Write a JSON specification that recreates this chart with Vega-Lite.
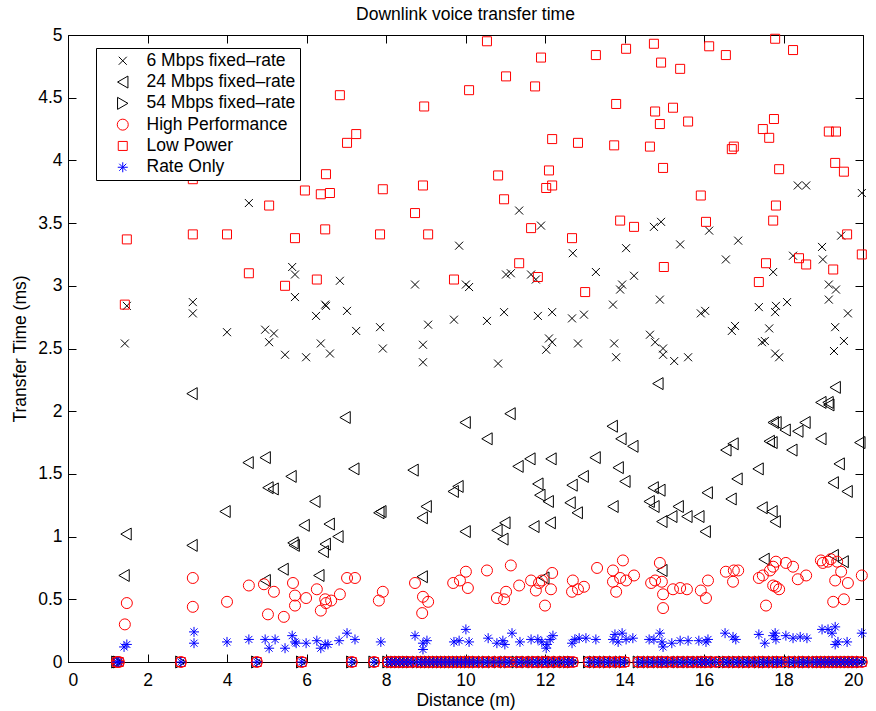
{
"$schema":"https://vega.github.io/schema/vega-lite/v6.json",
"width":795,"height":627,
"autosize":{"type":"none"},
"padding":{"left":68,"top":35,"right":13,"bottom":49},
"background":"white",
"title":{"text":"Downlink voice transfer time","font":"Liberation Sans","fontSize":17.5,"fontWeight":"normal","color":"black","anchor":"middle","offset":3},
"config":{"view":{"stroke":null},
"axis":{"domainColor":"black","tickColor":"black","labelColor":"black","titleColor":"black","labelFont":"Liberation Sans","titleFont":"Liberation Sans","labelFontSize":17.5,"titleFontSize":17.5,"titleFontWeight":"normal","tickSize":-8,"grid":false,"domainWidth":1,"tickWidth":1},
"legend":{"title":null,"orient":"none","legendX":28,"legendY":13,"strokeColor":"black","fillColor":"white","padding":4,"labelFont":"Liberation Sans","labelFontSize":17.5,"labelColor":"black","symbolStrokeWidth":1,"rowPadding":2.3,"labelOffset":15,"symbolOffset":14}},
"layer":[
{"data":{"values":[
{"s":"6M","x":1.43,"y":2.54},{"s":"6M","x":1.48,"y":2.84},{"s":"6M","x":3.14,"y":2.87},{"s":"6M","x":3.14,"y":2.78},{"s":"6M","x":4.0,"y":2.63},{"s":"6M","x":4.55,"y":3.66},{"s":"6M","x":4.96,"y":2.65},{"s":"6M","x":5.06,"y":2.55},{"s":"6M","x":5.18,"y":2.62},{"s":"6M","x":5.46,"y":2.45},{"s":"6M","x":5.64,"y":3.15},{"s":"6M","x":5.71,"y":3.09},{"s":"6M","x":5.71,"y":2.91},{"s":"6M","x":5.99,"y":2.43},{"s":"6M","x":6.24,"y":2.76},{"s":"6M","x":6.36,"y":2.54},{"s":"6M","x":6.47,"y":2.85},{"s":"6M","x":6.49,"y":2.84},{"s":"6M","x":6.59,"y":2.46},{"s":"6M","x":6.84,"y":3.04},{"s":"6M","x":7.02,"y":2.8},{"s":"6M","x":7.25,"y":2.64},{"s":"6M","x":7.85,"y":2.67},{"s":"6M","x":7.92,"y":2.5},{"s":"6M","x":8.73,"y":3.01},{"s":"6M","x":8.93,"y":2.53},{"s":"6M","x":8.93,"y":2.39},{"s":"6M","x":9.06,"y":2.69},{"s":"6M","x":9.71,"y":2.73},{"s":"6M","x":9.84,"y":3.32},{"s":"6M","x":10.01,"y":3.01},{"s":"6M","x":10.09,"y":2.99},{"s":"6M","x":10.54,"y":2.72},{"s":"6M","x":10.82,"y":2.38},{"s":"6M","x":10.97,"y":2.79},{"s":"6M","x":11.02,"y":3.09},{"s":"6M","x":11.14,"y":3.1},{"s":"6M","x":11.35,"y":3.6},{"s":"6M","x":11.65,"y":3.09},{"s":"6M","x":11.77,"y":3.05},{"s":"6M","x":11.82,"y":2.76},{"s":"6M","x":11.9,"y":3.48},{"s":"6M","x":12.03,"y":2.49},{"s":"6M","x":12.1,"y":2.58},{"s":"6M","x":12.18,"y":2.79},{"s":"6M","x":12.18,"y":2.55},{"s":"6M","x":12.68,"y":2.74},{"s":"6M","x":12.7,"y":3.26},{"s":"6M","x":12.83,"y":2.54},{"s":"6M","x":12.98,"y":2.77},{"s":"6M","x":13.28,"y":3.11},{"s":"6M","x":13.71,"y":2.85},{"s":"6M","x":13.74,"y":2.54},{"s":"6M","x":13.79,"y":2.43},{"s":"6M","x":13.89,"y":2.97},{"s":"6M","x":13.94,"y":3.01},{"s":"6M","x":14.04,"y":3.3},{"s":"6M","x":14.24,"y":3.08},{"s":"6M","x":14.64,"y":2.61},{"s":"6M","x":14.74,"y":3.47},{"s":"6M","x":14.77,"y":2.55},{"s":"6M","x":14.89,"y":2.89},{"s":"6M","x":14.92,"y":3.51},{"s":"6M","x":14.97,"y":2.5},{"s":"6M","x":14.97,"y":2.45},{"s":"6M","x":15.25,"y":2.4},{"s":"6M","x":15.4,"y":3.33},{"s":"6M","x":15.6,"y":2.43},{"s":"6M","x":15.92,"y":2.78},{"s":"6M","x":16.03,"y":2.8},{"s":"6M","x":16.13,"y":3.44},{"s":"6M","x":16.55,"y":3.21},{"s":"6M","x":16.7,"y":2.64},{"s":"6M","x":16.78,"y":2.68},{"s":"6M","x":16.86,"y":3.36},{"s":"6M","x":17.38,"y":2.83},{"s":"6M","x":17.46,"y":2.55},{"s":"6M","x":17.53,"y":2.56},{"s":"6M","x":17.64,"y":2.66},{"s":"6M","x":17.74,"y":3.11},{"s":"6M","x":17.79,"y":2.46},{"s":"6M","x":17.81,"y":2.84},{"s":"6M","x":17.79,"y":2.79},{"s":"6M","x":17.89,"y":2.43},{"s":"6M","x":18.09,"y":2.87},{"s":"6M","x":18.24,"y":3.24},{"s":"6M","x":18.36,"y":3.8},{"s":"6M","x":18.57,"y":3.8},{"s":"6M","x":18.97,"y":3.31},{"s":"6M","x":18.99,"y":3.21},{"s":"6M","x":19.14,"y":3.01},{"s":"6M","x":19.14,"y":2.89},{"s":"6M","x":19.27,"y":2.48},{"s":"6M","x":19.3,"y":2.67},{"s":"6M","x":19.32,"y":2.97},{"s":"6M","x":19.45,"y":3.4},{"s":"6M","x":19.52,"y":2.56},{"s":"6M","x":19.62,"y":2.78},{"s":"6M","x":19.97,"y":3.74},
{"s":"24M","x":1.41,"y":0.69},{"s":"24M","x":1.46,"y":1.02},{"s":"24M","x":3.12,"y":2.14},{"s":"24M","x":3.12,"y":0.93},{"s":"24M","x":3.95,"y":1.2},{"s":"24M","x":4.53,"y":1.59},{"s":"24M","x":4.96,"y":1.63},{"s":"24M","x":4.96,"y":0.65},{"s":"24M","x":5.03,"y":1.39},{"s":"24M","x":5.16,"y":1.38},{"s":"24M","x":5.41,"y":0.74},{"s":"24M","x":5.61,"y":1.48},{"s":"24M","x":5.66,"y":0.95},{"s":"24M","x":5.69,"y":0.93},{"s":"24M","x":5.94,"y":1.09},{"s":"24M","x":6.21,"y":1.28},{"s":"24M","x":6.31,"y":0.69},{"s":"24M","x":6.42,"y":0.88},{"s":"24M","x":6.47,"y":0.94},{"s":"24M","x":6.57,"y":1.1},{"s":"24M","x":6.79,"y":1.0},{"s":"24M","x":6.97,"y":1.95},{"s":"24M","x":7.19,"y":1.54},{"s":"24M","x":7.82,"y":1.19},{"s":"24M","x":7.87,"y":1.2},{"s":"24M","x":8.68,"y":1.53},{"s":"24M","x":8.91,"y":1.15},{"s":"24M","x":8.91,"y":0.68},{"s":"24M","x":9.01,"y":1.24},{"s":"24M","x":9.69,"y":1.36},{"s":"24M","x":9.81,"y":1.4},{"s":"24M","x":9.99,"y":1.91},{"s":"24M","x":9.99,"y":1.04},{"s":"24M","x":10.54,"y":1.78},{"s":"24M","x":10.79,"y":1.05},{"s":"24M","x":10.94,"y":0.98},{"s":"24M","x":10.99,"y":1.11},{"s":"24M","x":11.12,"y":1.98},{"s":"24M","x":11.32,"y":1.56},{"s":"24M","x":11.62,"y":1.62},{"s":"24M","x":11.72,"y":1.08},{"s":"24M","x":11.82,"y":1.42},{"s":"24M","x":11.87,"y":1.33},{"s":"24M","x":11.97,"y":0.67},{"s":"24M","x":12.08,"y":1.28},{"s":"24M","x":12.13,"y":1.11},{"s":"24M","x":12.15,"y":1.62},{"s":"24M","x":12.63,"y":1.27},{"s":"24M","x":12.68,"y":1.41},{"s":"24M","x":12.81,"y":1.19},{"s":"24M","x":12.96,"y":1.48},{"s":"24M","x":13.26,"y":1.63},{"s":"24M","x":13.69,"y":1.88},{"s":"24M","x":13.71,"y":1.24},{"s":"24M","x":13.84,"y":1.55},{"s":"24M","x":13.91,"y":1.78},{"s":"24M","x":14.01,"y":1.44},{"s":"24M","x":14.21,"y":1.72},{"s":"24M","x":14.62,"y":1.28},{"s":"24M","x":14.72,"y":1.39},{"s":"24M","x":14.74,"y":1.24},{"s":"24M","x":14.84,"y":2.22},{"s":"24M","x":14.89,"y":1.37},{"s":"24M","x":14.94,"y":1.12},{"s":"24M","x":14.94,"y":0.73},{"s":"24M","x":15.19,"y":1.16},{"s":"24M","x":15.35,"y":1.24},{"s":"24M","x":15.57,"y":1.16},{"s":"24M","x":15.87,"y":1.16},{"s":"24M","x":16.03,"y":1.04},{"s":"24M","x":16.08,"y":1.35},{"s":"24M","x":16.55,"y":1.69},{"s":"24M","x":16.73,"y":1.74},{"s":"24M","x":16.68,"y":1.3},{"s":"24M","x":16.83,"y":1.46},{"s":"24M","x":17.36,"y":1.54},{"s":"24M","x":17.46,"y":1.23},{"s":"24M","x":17.51,"y":0.82},{"s":"24M","x":17.64,"y":1.76},{"s":"24M","x":17.71,"y":1.75},{"s":"24M","x":17.71,"y":1.2},{"s":"24M","x":17.79,"y":1.12},{"s":"24M","x":17.74,"y":1.91},{"s":"24M","x":17.81,"y":1.91},{"s":"24M","x":18.04,"y":1.85},{"s":"24M","x":18.21,"y":1.69},{"s":"24M","x":18.36,"y":1.84},{"s":"24M","x":18.54,"y":1.91},{"s":"24M","x":18.94,"y":2.07},{"s":"24M","x":18.94,"y":1.78},{"s":"24M","x":19.12,"y":2.07},{"s":"24M","x":19.14,"y":2.05},{"s":"24M","x":19.25,"y":1.43},{"s":"24M","x":19.25,"y":0.85},{"s":"24M","x":19.3,"y":2.19},{"s":"24M","x":19.4,"y":1.58},{"s":"24M","x":19.5,"y":0.8},{"s":"24M","x":19.6,"y":1.36},{"s":"24M","x":19.92,"y":1.75},
{"s":"54M","x":1.23,"y":0},{"s":"54M","x":1.28,"y":0},{"s":"54M","x":2.84,"y":0},{"s":"54M","x":4.75,"y":0},{"s":"54M","x":5.88,"y":0},{"s":"54M","x":7.14,"y":0},{"s":"54M","x":7.7,"y":0},{"s":"54M","x":8.05,"y":0},{"s":"54M","x":8.15,"y":0},{"s":"54M","x":8.25,"y":0},{"s":"54M","x":8.35,"y":0},{"s":"54M","x":8.45,"y":0},{"s":"54M","x":8.55,"y":0},{"s":"54M","x":8.65,"y":0},{"s":"54M","x":8.8,"y":0},{"s":"54M","x":8.9,"y":0},{"s":"54M","x":9.0,"y":0},{"s":"54M","x":9.1,"y":0},{"s":"54M","x":9.2,"y":0},{"s":"54M","x":9.3,"y":0},{"s":"54M","x":9.4,"y":0},{"s":"54M","x":9.5,"y":0},{"s":"54M","x":9.6,"y":0},{"s":"54M","x":9.7,"y":0},{"s":"54M","x":9.8,"y":0},{"s":"54M","x":9.9,"y":0},{"s":"54M","x":10.0,"y":0},{"s":"54M","x":10.1,"y":0},{"s":"54M","x":10.2,"y":0},{"s":"54M","x":10.3,"y":0},{"s":"54M","x":10.45,"y":0},{"s":"54M","x":10.55,"y":0},{"s":"54M","x":10.7,"y":0},{"s":"54M","x":10.85,"y":0},{"s":"54M","x":11.0,"y":0},{"s":"54M","x":11.1,"y":0},{"s":"54M","x":11.3,"y":0},{"s":"54M","x":11.4,"y":0},{"s":"54M","x":11.55,"y":0},{"s":"54M","x":11.7,"y":0},{"s":"54M","x":11.8,"y":0},{"s":"54M","x":11.95,"y":0},{"s":"54M","x":12.05,"y":0},{"s":"54M","x":12.2,"y":0},{"s":"54M","x":12.35,"y":0},{"s":"54M","x":12.5,"y":0},{"s":"54M","x":12.6,"y":0},{"s":"54M","x":12.7,"y":0},{"s":"54M","x":13.1,"y":0},{"s":"54M","x":13.25,"y":0},{"s":"54M","x":13.35,"y":0},{"s":"54M","x":13.5,"y":0},{"s":"54M","x":13.6,"y":0},{"s":"54M","x":13.75,"y":0},{"s":"54M","x":13.9,"y":0},{"s":"54M","x":14.0,"y":0},{"s":"54M","x":14.35,"y":0},{"s":"54M","x":14.45,"y":0},{"s":"54M","x":14.6,"y":0},{"s":"54M","x":14.7,"y":0},{"s":"54M","x":14.85,"y":0},{"s":"54M","x":14.95,"y":0},{"s":"54M","x":15.05,"y":0},{"s":"54M","x":15.2,"y":0},{"s":"54M","x":15.35,"y":0},{"s":"54M","x":15.45,"y":0},{"s":"54M","x":15.6,"y":0},{"s":"54M","x":15.7,"y":0},{"s":"54M","x":15.85,"y":0},{"s":"54M","x":15.95,"y":0},{"s":"54M","x":16.05,"y":0},{"s":"54M","x":16.15,"y":0},{"s":"54M","x":16.3,"y":0},{"s":"54M","x":16.5,"y":0},{"s":"54M","x":16.6,"y":0},{"s":"54M","x":16.75,"y":0},{"s":"54M","x":16.85,"y":0},{"s":"54M","x":17.0,"y":0},{"s":"54M","x":17.1,"y":0},{"s":"54M","x":17.25,"y":0},{"s":"54M","x":17.4,"y":0},{"s":"54M","x":17.5,"y":0},{"s":"54M","x":17.6,"y":0},{"s":"54M","x":17.75,"y":0},{"s":"54M","x":17.85,"y":0},{"s":"54M","x":17.95,"y":0},{"s":"54M","x":18.15,"y":0},{"s":"54M","x":18.25,"y":0},{"s":"54M","x":18.4,"y":0},{"s":"54M","x":18.5,"y":0},{"s":"54M","x":18.6,"y":0},{"s":"54M","x":18.75,"y":0},{"s":"54M","x":18.85,"y":0},{"s":"54M","x":18.95,"y":0},{"s":"54M","x":19.05,"y":0},{"s":"54M","x":19.15,"y":0},{"s":"54M","x":19.25,"y":0},{"s":"54M","x":19.35,"y":0},{"s":"54M","x":19.45,"y":0},{"s":"54M","x":19.55,"y":0},{"s":"54M","x":19.65,"y":0},{"s":"54M","x":19.75,"y":0},{"s":"54M","x":19.85,"y":0},{"s":"54M","x":19.97,"y":0},
{"s":"HP","x":1.43,"y":0.3},{"s":"HP","x":1.48,"y":0.47},{"s":"HP","x":3.14,"y":0.67},{"s":"HP","x":3.14,"y":0.44},{"s":"HP","x":4.0,"y":0.48},{"s":"HP","x":4.55,"y":0.61},{"s":"HP","x":4.93,"y":0.62},{"s":"HP","x":5.03,"y":0.38},{"s":"HP","x":5.18,"y":0.56},{"s":"HP","x":5.43,"y":0.36},{"s":"HP","x":5.66,"y":0.63},{"s":"HP","x":5.71,"y":0.53},{"s":"HP","x":5.71,"y":0.45},{"s":"HP","x":5.99,"y":0.51},{"s":"HP","x":6.26,"y":0.58},{"s":"HP","x":6.36,"y":0.41},{"s":"HP","x":6.47,"y":0.5},{"s":"HP","x":6.49,"y":0.47},{"s":"HP","x":6.62,"y":0.49},{"s":"HP","x":6.84,"y":0.54},{"s":"HP","x":7.02,"y":0.67},{"s":"HP","x":7.22,"y":0.67},{"s":"HP","x":7.82,"y":0.49},{"s":"HP","x":7.92,"y":0.56},{"s":"HP","x":8.73,"y":0.63},{"s":"HP","x":8.91,"y":0.39},{"s":"HP","x":8.93,"y":0.52},{"s":"HP","x":9.06,"y":0.48},{"s":"HP","x":9.69,"y":0.63},{"s":"HP","x":9.86,"y":0.65},{"s":"HP","x":10.01,"y":0.72},{"s":"HP","x":10.06,"y":0.59},{"s":"HP","x":10.54,"y":0.73},{"s":"HP","x":10.79,"y":0.51},{"s":"HP","x":10.97,"y":0.5},{"s":"HP","x":11.02,"y":0.56},{"s":"HP","x":11.14,"y":0.77},{"s":"HP","x":11.35,"y":0.61},{"s":"HP","x":11.65,"y":0.65},{"s":"HP","x":11.77,"y":0.57},{"s":"HP","x":11.85,"y":0.63},{"s":"HP","x":11.92,"y":0.65},{"s":"HP","x":12.0,"y":0.45},{"s":"HP","x":12.15,"y":0.58},{"s":"HP","x":12.18,"y":0.71},{"s":"HP","x":12.68,"y":0.56},{"s":"HP","x":12.7,"y":0.65},{"s":"HP","x":12.83,"y":0.58},{"s":"HP","x":12.98,"y":0.6},{"s":"HP","x":13.31,"y":0.75},{"s":"HP","x":13.71,"y":0.73},{"s":"HP","x":13.71,"y":0.64},{"s":"HP","x":13.79,"y":0.56},{"s":"HP","x":13.89,"y":0.67},{"s":"HP","x":13.96,"y":0.81},{"s":"HP","x":14.04,"y":0.65},{"s":"HP","x":14.24,"y":0.69},{"s":"HP","x":14.67,"y":0.63},{"s":"HP","x":14.77,"y":0.65},{"s":"HP","x":14.89,"y":0.79},{"s":"HP","x":14.94,"y":0.64},{"s":"HP","x":14.97,"y":0.54},{"s":"HP","x":14.97,"y":0.43},{"s":"HP","x":15.22,"y":0.58},{"s":"HP","x":15.4,"y":0.59},{"s":"HP","x":15.57,"y":0.58},{"s":"HP","x":15.92,"y":0.57},{"s":"HP","x":16.05,"y":0.51},{"s":"HP","x":16.1,"y":0.65},{"s":"HP","x":16.55,"y":0.72},{"s":"HP","x":16.73,"y":0.64},{"s":"HP","x":16.75,"y":0.73},{"s":"HP","x":16.86,"y":0.73},{"s":"HP","x":17.38,"y":0.67},{"s":"HP","x":17.48,"y":0.69},{"s":"HP","x":17.56,"y":0.45},{"s":"HP","x":17.66,"y":0.73},{"s":"HP","x":17.74,"y":0.76},{"s":"HP","x":17.81,"y":0.8},{"s":"HP","x":17.74,"y":0.61},{"s":"HP","x":17.81,"y":0.6},{"s":"HP","x":17.89,"y":0.58},{"s":"HP","x":18.06,"y":0.79},{"s":"HP","x":18.24,"y":0.76},{"s":"HP","x":18.36,"y":0.66},{"s":"HP","x":18.57,"y":0.69},{"s":"HP","x":18.94,"y":0.81},{"s":"HP","x":18.99,"y":0.79},{"s":"HP","x":19.12,"y":0.8},{"s":"HP","x":19.19,"y":0.82},{"s":"HP","x":19.35,"y":0.8},{"s":"HP","x":19.45,"y":0.72},{"s":"HP","x":19.3,"y":0.65},{"s":"HP","x":19.62,"y":0.63},{"s":"HP","x":19.25,"y":0.48},{"s":"HP","x":19.52,"y":0.5},{"s":"HP","x":19.97,"y":0.69},
{"s":"HP","x":1.23,"y":0},{"s":"HP","x":1.28,"y":0},{"s":"HP","x":2.84,"y":0},{"s":"HP","x":4.75,"y":0},{"s":"HP","x":5.88,"y":0},{"s":"HP","x":7.14,"y":0},{"s":"HP","x":7.7,"y":0},{"s":"HP","x":8.05,"y":0},{"s":"HP","x":8.15,"y":0},{"s":"HP","x":8.25,"y":0},{"s":"HP","x":8.35,"y":0},{"s":"HP","x":8.45,"y":0},{"s":"HP","x":8.55,"y":0},{"s":"HP","x":8.65,"y":0},{"s":"HP","x":8.8,"y":0},{"s":"HP","x":8.9,"y":0},{"s":"HP","x":9.0,"y":0},{"s":"HP","x":9.1,"y":0},{"s":"HP","x":9.2,"y":0},{"s":"HP","x":9.3,"y":0},{"s":"HP","x":9.4,"y":0},{"s":"HP","x":9.5,"y":0},{"s":"HP","x":9.6,"y":0},{"s":"HP","x":9.7,"y":0},{"s":"HP","x":9.8,"y":0},{"s":"HP","x":9.9,"y":0},{"s":"HP","x":10.0,"y":0},{"s":"HP","x":10.1,"y":0},{"s":"HP","x":10.2,"y":0},{"s":"HP","x":10.3,"y":0},{"s":"HP","x":10.45,"y":0},{"s":"HP","x":10.55,"y":0},{"s":"HP","x":10.7,"y":0},{"s":"HP","x":10.85,"y":0},{"s":"HP","x":11.0,"y":0},{"s":"HP","x":11.1,"y":0},{"s":"HP","x":11.3,"y":0},{"s":"HP","x":11.4,"y":0},{"s":"HP","x":11.55,"y":0},{"s":"HP","x":11.7,"y":0},{"s":"HP","x":11.8,"y":0},{"s":"HP","x":11.95,"y":0},{"s":"HP","x":12.05,"y":0},{"s":"HP","x":12.2,"y":0},{"s":"HP","x":12.35,"y":0},{"s":"HP","x":12.5,"y":0},{"s":"HP","x":12.6,"y":0},{"s":"HP","x":12.7,"y":0},{"s":"HP","x":13.1,"y":0},{"s":"HP","x":13.25,"y":0},{"s":"HP","x":13.35,"y":0},{"s":"HP","x":13.5,"y":0},{"s":"HP","x":13.6,"y":0},{"s":"HP","x":13.75,"y":0},{"s":"HP","x":13.9,"y":0},{"s":"HP","x":14.0,"y":0},{"s":"HP","x":14.35,"y":0},{"s":"HP","x":14.45,"y":0},{"s":"HP","x":14.6,"y":0},{"s":"HP","x":14.7,"y":0},{"s":"HP","x":14.85,"y":0},{"s":"HP","x":14.95,"y":0},{"s":"HP","x":15.05,"y":0},{"s":"HP","x":15.2,"y":0},{"s":"HP","x":15.35,"y":0},{"s":"HP","x":15.45,"y":0},{"s":"HP","x":15.6,"y":0},{"s":"HP","x":15.7,"y":0},{"s":"HP","x":15.85,"y":0},{"s":"HP","x":15.95,"y":0},{"s":"HP","x":16.05,"y":0},{"s":"HP","x":16.15,"y":0},{"s":"HP","x":16.3,"y":0},{"s":"HP","x":16.5,"y":0},{"s":"HP","x":16.6,"y":0},{"s":"HP","x":16.75,"y":0},{"s":"HP","x":16.85,"y":0},{"s":"HP","x":17.0,"y":0},{"s":"HP","x":17.1,"y":0},{"s":"HP","x":17.25,"y":0},{"s":"HP","x":17.4,"y":0},{"s":"HP","x":17.5,"y":0},{"s":"HP","x":17.6,"y":0},{"s":"HP","x":17.75,"y":0},{"s":"HP","x":17.85,"y":0},{"s":"HP","x":17.95,"y":0},{"s":"HP","x":18.15,"y":0},{"s":"HP","x":18.25,"y":0},{"s":"HP","x":18.4,"y":0},{"s":"HP","x":18.5,"y":0},{"s":"HP","x":18.6,"y":0},{"s":"HP","x":18.75,"y":0},{"s":"HP","x":18.85,"y":0},{"s":"HP","x":18.95,"y":0},{"s":"HP","x":19.05,"y":0},{"s":"HP","x":19.15,"y":0},{"s":"HP","x":19.25,"y":0},{"s":"HP","x":19.35,"y":0},{"s":"HP","x":19.45,"y":0},{"s":"HP","x":19.55,"y":0},{"s":"HP","x":19.65,"y":0},{"s":"HP","x":19.75,"y":0},{"s":"HP","x":19.85,"y":0},{"s":"HP","x":19.97,"y":0},
{"s":"LP","x":1.43,"y":2.85},{"s":"LP","x":1.48,"y":3.37},{"s":"LP","x":3.14,"y":3.85},{"s":"LP","x":3.14,"y":3.41},{"s":"LP","x":4.0,"y":3.41},{"s":"LP","x":4.55,"y":3.1},{"s":"LP","x":5.06,"y":3.64},{"s":"LP","x":5.46,"y":3.0},{"s":"LP","x":5.71,"y":3.38},{"s":"LP","x":5.96,"y":3.76},{"s":"LP","x":6.26,"y":3.05},{"s":"LP","x":6.36,"y":3.73},{"s":"LP","x":6.47,"y":3.45},{"s":"LP","x":6.49,"y":3.89},{"s":"LP","x":6.59,"y":3.74},{"s":"LP","x":6.84,"y":4.52},{"s":"LP","x":7.02,"y":4.14},{"s":"LP","x":7.25,"y":4.21},{"s":"LP","x":7.85,"y":3.41},{"s":"LP","x":7.92,"y":3.77},{"s":"LP","x":8.73,"y":3.58},{"s":"LP","x":8.93,"y":3.8},{"s":"LP","x":8.96,"y":4.43},{"s":"LP","x":9.06,"y":3.41},{"s":"LP","x":9.71,"y":3.05},{"s":"LP","x":10.09,"y":4.56},{"s":"LP","x":10.54,"y":4.95},{"s":"LP","x":10.82,"y":3.88},{"s":"LP","x":10.97,"y":3.69},{"s":"LP","x":11.02,"y":4.67},{"s":"LP","x":11.35,"y":3.18},{"s":"LP","x":11.65,"y":3.46},{"s":"LP","x":11.75,"y":4.59},{"s":"LP","x":11.82,"y":3.07},{"s":"LP","x":11.9,"y":4.82},{"s":"LP","x":12.03,"y":3.78},{"s":"LP","x":12.1,"y":3.92},{"s":"LP","x":12.18,"y":4.17},{"s":"LP","x":12.18,"y":3.8},{"s":"LP","x":12.68,"y":3.38},{"s":"LP","x":12.83,"y":4.14},{"s":"LP","x":13.01,"y":2.95},{"s":"LP","x":13.28,"y":4.84},{"s":"LP","x":13.74,"y":4.12},{"s":"LP","x":13.79,"y":4.45},{"s":"LP","x":13.89,"y":3.52},{"s":"LP","x":14.04,"y":4.89},{"s":"LP","x":14.24,"y":3.47},{"s":"LP","x":14.64,"y":4.11},{"s":"LP","x":14.74,"y":4.93},{"s":"LP","x":14.77,"y":4.39},{"s":"LP","x":14.89,"y":4.29},{"s":"LP","x":14.92,"y":4.78},{"s":"LP","x":14.97,"y":3.94},{"s":"LP","x":14.99,"y":3.15},{"s":"LP","x":15.22,"y":4.42},{"s":"LP","x":15.4,"y":4.73},{"s":"LP","x":15.6,"y":4.31},{"s":"LP","x":15.92,"y":3.72},{"s":"LP","x":16.05,"y":3.51},{"s":"LP","x":16.13,"y":4.91},{"s":"LP","x":16.7,"y":4.09},{"s":"LP","x":16.75,"y":4.11},{"s":"LP","x":16.55,"y":4.84},{"s":"LP","x":17.38,"y":3.03},{"s":"LP","x":17.48,"y":4.25},{"s":"LP","x":17.56,"y":3.18},{"s":"LP","x":17.64,"y":4.18},{"s":"LP","x":17.74,"y":3.52},{"s":"LP","x":17.76,"y":4.33},{"s":"LP","x":17.79,"y":4.97},{"s":"LP","x":17.81,"y":3.64},{"s":"LP","x":17.89,"y":3.93},{"s":"LP","x":18.24,"y":4.88},{"s":"LP","x":18.39,"y":3.22},{"s":"LP","x":18.57,"y":3.17},{"s":"LP","x":19.14,"y":4.23},{"s":"LP","x":19.25,"y":3.13},{"s":"LP","x":19.3,"y":3.98},{"s":"LP","x":19.32,"y":4.23},{"s":"LP","x":19.52,"y":3.91},{"s":"LP","x":19.6,"y":3.41},{"s":"LP","x":19.97,"y":3.25},
{"s":"LP","x":1.23,"y":0},{"s":"LP","x":1.28,"y":0},{"s":"LP","x":2.84,"y":0},{"s":"LP","x":4.75,"y":0},{"s":"LP","x":5.88,"y":0},{"s":"LP","x":7.14,"y":0},{"s":"LP","x":7.7,"y":0},{"s":"LP","x":8.05,"y":0},{"s":"LP","x":8.15,"y":0},{"s":"LP","x":8.25,"y":0},{"s":"LP","x":8.35,"y":0},{"s":"LP","x":8.45,"y":0},{"s":"LP","x":8.55,"y":0},{"s":"LP","x":8.65,"y":0},{"s":"LP","x":8.8,"y":0},{"s":"LP","x":8.9,"y":0},{"s":"LP","x":9.0,"y":0},{"s":"LP","x":9.1,"y":0},{"s":"LP","x":9.2,"y":0},{"s":"LP","x":9.3,"y":0},{"s":"LP","x":9.4,"y":0},{"s":"LP","x":9.5,"y":0},{"s":"LP","x":9.6,"y":0},{"s":"LP","x":9.7,"y":0},{"s":"LP","x":9.8,"y":0},{"s":"LP","x":9.9,"y":0},{"s":"LP","x":10.0,"y":0},{"s":"LP","x":10.1,"y":0},{"s":"LP","x":10.2,"y":0},{"s":"LP","x":10.3,"y":0},{"s":"LP","x":10.45,"y":0},{"s":"LP","x":10.55,"y":0},{"s":"LP","x":10.7,"y":0},{"s":"LP","x":10.85,"y":0},{"s":"LP","x":11.0,"y":0},{"s":"LP","x":11.1,"y":0},{"s":"LP","x":11.3,"y":0},{"s":"LP","x":11.4,"y":0},{"s":"LP","x":11.55,"y":0},{"s":"LP","x":11.7,"y":0},{"s":"LP","x":11.8,"y":0},{"s":"LP","x":11.95,"y":0},{"s":"LP","x":12.05,"y":0},{"s":"LP","x":12.2,"y":0},{"s":"LP","x":12.35,"y":0},{"s":"LP","x":12.5,"y":0},{"s":"LP","x":12.6,"y":0},{"s":"LP","x":12.7,"y":0},{"s":"LP","x":13.1,"y":0},{"s":"LP","x":13.25,"y":0},{"s":"LP","x":13.35,"y":0},{"s":"LP","x":13.5,"y":0},{"s":"LP","x":13.6,"y":0},{"s":"LP","x":13.75,"y":0},{"s":"LP","x":13.9,"y":0},{"s":"LP","x":14.0,"y":0},{"s":"LP","x":14.35,"y":0},{"s":"LP","x":14.45,"y":0},{"s":"LP","x":14.6,"y":0},{"s":"LP","x":14.7,"y":0},{"s":"LP","x":14.85,"y":0},{"s":"LP","x":14.95,"y":0},{"s":"LP","x":15.05,"y":0},{"s":"LP","x":15.2,"y":0},{"s":"LP","x":15.35,"y":0},{"s":"LP","x":15.45,"y":0},{"s":"LP","x":15.6,"y":0},{"s":"LP","x":15.7,"y":0},{"s":"LP","x":15.85,"y":0},{"s":"LP","x":15.95,"y":0},{"s":"LP","x":16.05,"y":0},{"s":"LP","x":16.15,"y":0},{"s":"LP","x":16.3,"y":0},{"s":"LP","x":16.5,"y":0},{"s":"LP","x":16.6,"y":0},{"s":"LP","x":16.75,"y":0},{"s":"LP","x":16.85,"y":0},{"s":"LP","x":17.0,"y":0},{"s":"LP","x":17.1,"y":0},{"s":"LP","x":17.25,"y":0},{"s":"LP","x":17.4,"y":0},{"s":"LP","x":17.5,"y":0},{"s":"LP","x":17.6,"y":0},{"s":"LP","x":17.75,"y":0},{"s":"LP","x":17.85,"y":0},{"s":"LP","x":17.95,"y":0},{"s":"LP","x":18.15,"y":0},{"s":"LP","x":18.25,"y":0},{"s":"LP","x":18.4,"y":0},{"s":"LP","x":18.5,"y":0},{"s":"LP","x":18.6,"y":0},{"s":"LP","x":18.75,"y":0},{"s":"LP","x":18.85,"y":0},{"s":"LP","x":18.95,"y":0},{"s":"LP","x":19.05,"y":0},{"s":"LP","x":19.15,"y":0},{"s":"LP","x":19.25,"y":0},{"s":"LP","x":19.35,"y":0},{"s":"LP","x":19.45,"y":0},{"s":"LP","x":19.55,"y":0},{"s":"LP","x":19.65,"y":0},{"s":"LP","x":19.75,"y":0},{"s":"LP","x":19.85,"y":0},{"s":"LP","x":19.97,"y":0},
{"s":"RO","x":1.48,"y":0.14},{"s":"RO","x":1.41,"y":0.12},{"s":"RO","x":3.17,"y":0.24},{"s":"RO","x":3.17,"y":0.15},{"s":"RO","x":4.0,"y":0.16},{"s":"RO","x":4.55,"y":0.18},{"s":"RO","x":4.96,"y":0.18},{"s":"RO","x":5.06,"y":0.11},{"s":"RO","x":5.21,"y":0.18},{"s":"RO","x":5.46,"y":0.11},{"s":"RO","x":5.64,"y":0.21},{"s":"RO","x":5.71,"y":0.16},{"s":"RO","x":5.74,"y":0.15},{"s":"RO","x":5.99,"y":0.15},{"s":"RO","x":6.26,"y":0.17},{"s":"RO","x":6.36,"y":0.11},{"s":"RO","x":6.47,"y":0.14},{"s":"RO","x":6.54,"y":0.14},{"s":"RO","x":6.82,"y":0.17},{"s":"RO","x":7.02,"y":0.23},{"s":"RO","x":7.22,"y":0.18},{"s":"RO","x":7.87,"y":0.16},{"s":"RO","x":8.73,"y":0.21},{"s":"RO","x":8.93,"y":0.15},{"s":"RO","x":8.93,"y":0.1},{"s":"RO","x":9.03,"y":0.17},{"s":"RO","x":9.71,"y":0.16},{"s":"RO","x":9.84,"y":0.17},{"s":"RO","x":10.01,"y":0.26},{"s":"RO","x":10.09,"y":0.16},{"s":"RO","x":10.57,"y":0.19},{"s":"RO","x":10.79,"y":0.15},{"s":"RO","x":10.94,"y":0.17},{"s":"RO","x":10.99,"y":0.14},{"s":"RO","x":11.17,"y":0.23},{"s":"RO","x":11.37,"y":0.16},{"s":"RO","x":11.65,"y":0.18},{"s":"RO","x":11.82,"y":0.18},{"s":"RO","x":11.92,"y":0.16},{"s":"RO","x":12.05,"y":0.14},{"s":"RO","x":12.03,"y":0.11},{"s":"RO","x":12.13,"y":0.18},{"s":"RO","x":12.2,"y":0.21},{"s":"RO","x":12.68,"y":0.15},{"s":"RO","x":12.75,"y":0.18},{"s":"RO","x":12.86,"y":0.19},{"s":"RO","x":13.03,"y":0.19},{"s":"RO","x":13.28,"y":0.18},{"s":"RO","x":13.71,"y":0.18},{"s":"RO","x":13.76,"y":0.22},{"s":"RO","x":13.84,"y":0.16},{"s":"RO","x":13.94,"y":0.23},{"s":"RO","x":14.04,"y":0.18},{"s":"RO","x":14.21,"y":0.19},{"s":"RO","x":14.62,"y":0.18},{"s":"RO","x":14.74,"y":0.18},{"s":"RO","x":14.89,"y":0.23},{"s":"RO","x":14.94,"y":0.16},{"s":"RO","x":14.97,"y":0.12},{"s":"RO","x":15.19,"y":0.15},{"s":"RO","x":15.4,"y":0.17},{"s":"RO","x":15.6,"y":0.17},{"s":"RO","x":15.87,"y":0.17},{"s":"RO","x":16.05,"y":0.16},{"s":"RO","x":16.1,"y":0.18},{"s":"RO","x":16.53,"y":0.23},{"s":"RO","x":16.73,"y":0.2},{"s":"RO","x":16.8,"y":0.18},{"s":"RO","x":17.38,"y":0.22},{"s":"RO","x":17.53,"y":0.15},{"s":"RO","x":17.74,"y":0.21},{"s":"RO","x":17.81,"y":0.18},{"s":"RO","x":17.79,"y":0.23},{"s":"RO","x":18.06,"y":0.21},{"s":"RO","x":18.24,"y":0.19},{"s":"RO","x":18.42,"y":0.2},{"s":"RO","x":18.59,"y":0.19},{"s":"RO","x":18.97,"y":0.26},{"s":"RO","x":19.12,"y":0.26},{"s":"RO","x":19.3,"y":0.28},{"s":"RO","x":19.22,"y":0.23},{"s":"RO","x":19.37,"y":0.16},{"s":"RO","x":19.3,"y":0.14},{"s":"RO","x":19.6,"y":0.16},{"s":"RO","x":19.97,"y":0.23},
{"s":"RO","x":1.23,"y":0},{"s":"RO","x":1.28,"y":0},{"s":"RO","x":2.84,"y":0},{"s":"RO","x":4.75,"y":0},{"s":"RO","x":5.88,"y":0},{"s":"RO","x":7.14,"y":0},{"s":"RO","x":7.7,"y":0},{"s":"RO","x":8.05,"y":0},{"s":"RO","x":8.15,"y":0},{"s":"RO","x":8.25,"y":0},{"s":"RO","x":8.35,"y":0},{"s":"RO","x":8.45,"y":0},{"s":"RO","x":8.55,"y":0},{"s":"RO","x":8.65,"y":0},{"s":"RO","x":8.8,"y":0},{"s":"RO","x":8.9,"y":0},{"s":"RO","x":9.0,"y":0},{"s":"RO","x":9.1,"y":0},{"s":"RO","x":9.2,"y":0},{"s":"RO","x":9.3,"y":0},{"s":"RO","x":9.4,"y":0},{"s":"RO","x":9.5,"y":0},{"s":"RO","x":9.6,"y":0},{"s":"RO","x":9.7,"y":0},{"s":"RO","x":9.8,"y":0},{"s":"RO","x":9.9,"y":0},{"s":"RO","x":10.0,"y":0},{"s":"RO","x":10.1,"y":0},{"s":"RO","x":10.2,"y":0},{"s":"RO","x":10.3,"y":0},{"s":"RO","x":10.45,"y":0},{"s":"RO","x":10.55,"y":0},{"s":"RO","x":10.7,"y":0},{"s":"RO","x":10.85,"y":0},{"s":"RO","x":11.0,"y":0},{"s":"RO","x":11.1,"y":0},{"s":"RO","x":11.3,"y":0},{"s":"RO","x":11.4,"y":0},{"s":"RO","x":11.55,"y":0},{"s":"RO","x":11.7,"y":0},{"s":"RO","x":11.8,"y":0},{"s":"RO","x":11.95,"y":0},{"s":"RO","x":12.05,"y":0},{"s":"RO","x":12.2,"y":0},{"s":"RO","x":12.35,"y":0},{"s":"RO","x":12.5,"y":0},{"s":"RO","x":12.6,"y":0},{"s":"RO","x":12.7,"y":0},{"s":"RO","x":13.1,"y":0},{"s":"RO","x":13.25,"y":0},{"s":"RO","x":13.35,"y":0},{"s":"RO","x":13.5,"y":0},{"s":"RO","x":13.6,"y":0},{"s":"RO","x":13.75,"y":0},{"s":"RO","x":13.9,"y":0},{"s":"RO","x":14.0,"y":0},{"s":"RO","x":14.35,"y":0},{"s":"RO","x":14.45,"y":0},{"s":"RO","x":14.6,"y":0},{"s":"RO","x":14.7,"y":0},{"s":"RO","x":14.85,"y":0},{"s":"RO","x":14.95,"y":0},{"s":"RO","x":15.05,"y":0},{"s":"RO","x":15.2,"y":0},{"s":"RO","x":15.35,"y":0},{"s":"RO","x":15.45,"y":0},{"s":"RO","x":15.6,"y":0},{"s":"RO","x":15.7,"y":0},{"s":"RO","x":15.85,"y":0},{"s":"RO","x":15.95,"y":0},{"s":"RO","x":16.05,"y":0},{"s":"RO","x":16.15,"y":0},{"s":"RO","x":16.3,"y":0},{"s":"RO","x":16.5,"y":0},{"s":"RO","x":16.6,"y":0},{"s":"RO","x":16.75,"y":0},{"s":"RO","x":16.85,"y":0},{"s":"RO","x":17.0,"y":0},{"s":"RO","x":17.1,"y":0},{"s":"RO","x":17.25,"y":0},{"s":"RO","x":17.4,"y":0},{"s":"RO","x":17.5,"y":0},{"s":"RO","x":17.6,"y":0},{"s":"RO","x":17.75,"y":0},{"s":"RO","x":17.85,"y":0},{"s":"RO","x":17.95,"y":0},{"s":"RO","x":18.15,"y":0},{"s":"RO","x":18.25,"y":0},{"s":"RO","x":18.4,"y":0},{"s":"RO","x":18.5,"y":0},{"s":"RO","x":18.6,"y":0},{"s":"RO","x":18.75,"y":0},{"s":"RO","x":18.85,"y":0},{"s":"RO","x":18.95,"y":0},{"s":"RO","x":19.05,"y":0},{"s":"RO","x":19.15,"y":0},{"s":"RO","x":19.25,"y":0},{"s":"RO","x":19.35,"y":0},{"s":"RO","x":19.45,"y":0},{"s":"RO","x":19.55,"y":0},{"s":"RO","x":19.65,"y":0},{"s":"RO","x":19.75,"y":0},{"s":"RO","x":19.85,"y":0},{"s":"RO","x":19.97,"y":0}
]},
"mark":{"type":"point","filled":false,"strokeWidth":1,"opacity":1},
"encoding":{
"x":{"field":"x","type":"quantitative","scale":{"domain":[0,20],"nice":false,"zero":false},"axis":{"orient":"bottom","values":[0,2,4,6,8,10,12,14,16,18,20],"title":"Distance (m)","labelPadding":17,"titlePadding":3}},
"y":{"field":"y","type":"quantitative","scale":{"domain":[0,5],"nice":false,"zero":false},"axis":{"orient":"left","values":[0,0.5,1,1.5,2,2.5,3,3.5,4,4.5,5],"format":"~g","title":"Transfer Time (ms)","labelPadding":14,"titlePadding":8}},
"color":{"field":"s","type":"nominal","scale":{"domain":["6M","24M","54M","HP","LP","RO"],"range":["black","black","black","#ff0000","#ff0000","#0000ff"]},
"legend":{"labelExpr":"{'6M':'6 Mbps fixed–rate','24M':'24 Mbps fixed–rate','54M':'54 Mbps fixed–rate','HP':'High Performance','LP':'Low Power','RO':'Rate Only'}[datum.label]"}},
"shape":{"field":"s","type":"nominal","scale":{"domain":["6M","24M","54M","HP","LP","RO"],"range":["M-1,-1L1,1M-1,1L1,-1","triangle-left","triangle-right","circle","square","M0,-1L0,1M-1,0L1,0M-0.7,-0.7L0.7,0.7M-0.7,0.7L0.7,-0.7"]},
"legend":{"labelExpr":"{'6M':'6 Mbps fixed–rate','24M':'24 Mbps fixed–rate','54M':'54 Mbps fixed–rate','HP':'High Performance','LP':'Low Power','RO':'Rate Only'}[datum.label]"}},
"size":{"field":"s","type":"nominal","scale":{"type":"ordinal","domain":["6M","24M","54M","HP","LP","RO"],"range":[64,144,144,121,81,100]},
"legend":{"labelExpr":"{'6M':'6 Mbps fixed–rate','24M':'24 Mbps fixed–rate','54M':'54 Mbps fixed–rate','HP':'High Performance','LP':'Low Power','RO':'Rate Only'}[datum.label]"}}
}},
{"data":{"values":[{"x":0,"y":0}]},
"mark":{"type":"point","opacity":0},
"encoding":{
"x":{"field":"x","type":"quantitative","axis":{"orient":"top","values":[0,2,4,6,8,10,12,14,16,18,20],"labels":false,"title":null}},
"y":{"field":"y","type":"quantitative","axis":{"orient":"right","values":[0,0.5,1,1.5,2,2.5,3,3.5,4,4.5,5],"labels":false,"title":null}}
}}
],
"resolve":{"axis":{"x":"independent","y":"independent"}}
}
